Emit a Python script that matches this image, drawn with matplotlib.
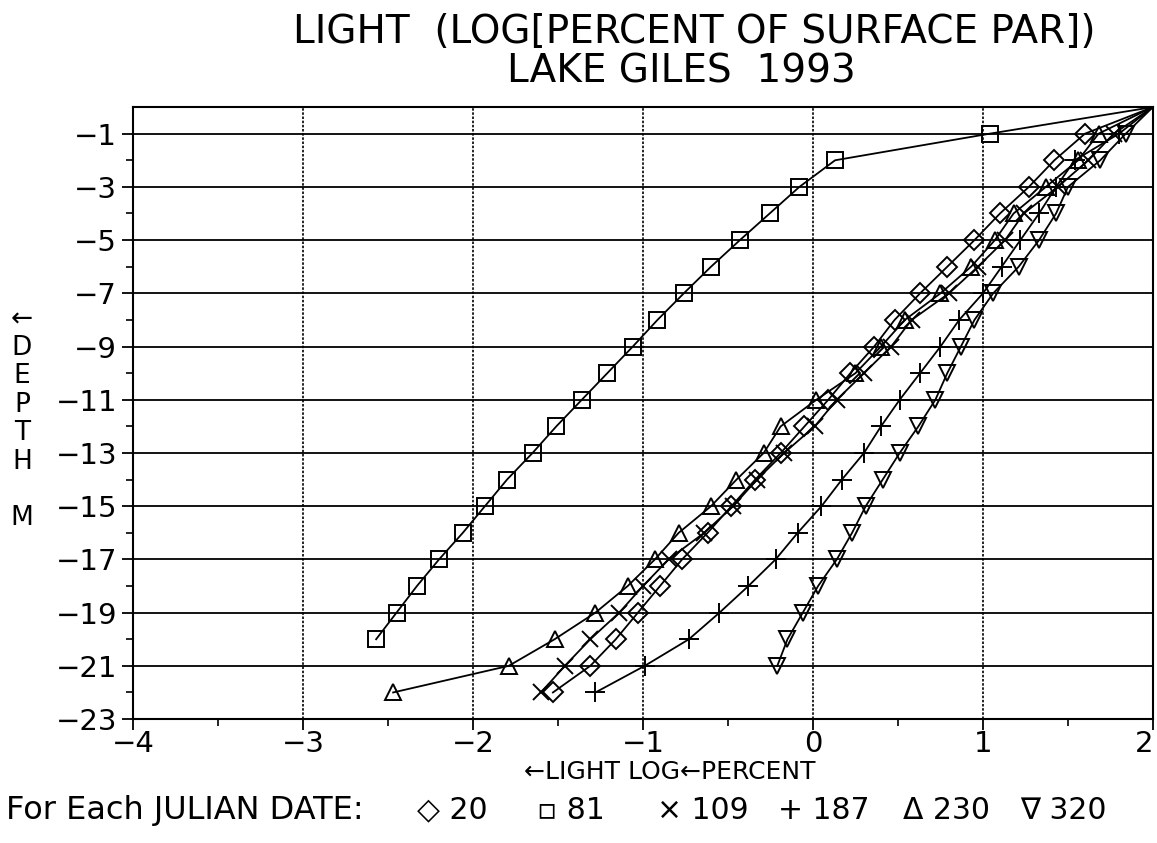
import matplotlib
matplotlib.use("Agg")
import matplotlib.pyplot as plt
import numpy as np

plt.rcParams['font.family'] = ['DejaVu Sans']

# depth (m) for each Julian date, surface point first
depth_20 = [0] + [-d for d in range(1, 23)]
light_20 = [2.0, 1.60, 1.42, 1.27, 1.10, 0.95, 0.79, 0.63, 0.48, 0.36, 0.22, 0.09,
            -0.05, -0.19, -0.34, -0.48, -0.62, -0.77, -0.90, -1.03, -1.16, -1.31, -1.53]

depth_81 = [0] + [-d for d in range(1, 21)]
light_81 = [2.0, 1.04, 0.13, -0.08, -0.255, -0.43, -0.60, -0.76, -0.915, -1.06, -1.21,
            -1.36, -1.51, -1.65, -1.80, -1.93, -2.06, -2.20, -2.33, -2.45, -2.57]

depth_109 = [0] + [-d for d in range(1, 23)]
light_109 = [2.0, 1.77, 1.62, 1.44, 1.24, 1.13, 0.97, 0.80, 0.58, 0.46, 0.30, 0.14,
             0.01, -0.17, -0.33, -0.47, -0.64, -0.85, -1.00, -1.14, -1.31, -1.46, -1.60]

depth_187 = [0] + [-d for d in range(1, 23)]
light_187 = [2.0, 1.80, 1.54, 1.43, 1.33, 1.22, 1.11, 1.00, 0.86, 0.75, 0.63, 0.51,
             0.40, 0.30, 0.17, 0.05, -0.09, -0.22, -0.38, -0.55, -0.73, -0.99, -1.28]

depth_230 = [0] + [-d for d in range(1, 23)]
light_230 = [2.0, 1.68, 1.56, 1.37, 1.18, 1.07, 0.93, 0.75, 0.54, 0.40, 0.25, 0.02,
             -0.19, -0.29, -0.45, -0.60, -0.79, -0.93, -1.09, -1.28, -1.52, -1.79, -2.47]

depth_320 = [0] + [-d for d in range(1, 22)]
light_320 = [2.0, 1.84, 1.69, 1.50, 1.43, 1.33, 1.21, 1.06, 0.95, 0.87, 0.79, 0.72,
             0.62, 0.51, 0.41, 0.31, 0.23, 0.14, 0.03, -0.06, -0.15, -0.21]

series = [
    (light_20, depth_20, 'D', 10),
    (light_81, depth_81, 's', 11),
    (light_109, depth_109, 'x', 12),
    (light_187, depth_187, '+', 14),
    (light_230, depth_230, '^', 12),
    (light_320, depth_320, 'v', 12),
]

legend_items = ['\u25C7 20', '\u25AB 81', '\u00D7 109', '+ 187', '\u0394 230', '\u2207 320']
legend_x = [417, 537, 657, 778, 903, 1020]

fig = plt.figure(figsize=(11.57, 8.43), dpi=100)
ax = fig.add_axes([0.115, 0.147, 0.8815, 0.726])

for xs, ys, m, ms in series:
    ax.plot(xs[1:], ys[1:], marker=m, markersize=ms, markerfacecolor='none',
            markeredgecolor='black', markeredgewidth=1.4, linestyle='none', zorder=3)
    ax.plot(xs, ys, color='black', linewidth=1.3, zorder=2)

ax.set_xlim(-4, 2)
ax.set_ylim(-23, 0)
ax.set_xticks(np.arange(-4, 3, 1))
ax.set_xticks(np.arange(-3.5, 2, 1), minor=True)
ax.set_yticks(np.arange(-23, 0, 2))
ax.set_yticks(np.arange(-22, 0, 2), minor=True)
ax.set_xticklabels(['\u22124', '\u22123', '\u22122', '\u22121', '0', '1', '2'])
ax.set_yticklabels(['\u2212%d' % d for d in range(23, 0, -2)])
ax.tick_params(axis='both', which='major', direction='out', length=8, width=1.3,
               labelsize=21, colors='black')
ax.tick_params(axis='both', which='minor', direction='out', length=5, width=1.2)
ax.tick_params(axis='x', pad=0)
ax.get_xticklabels()[-1].set_horizontalalignment('right')

ax.grid(axis='y', which='major', color='black', linewidth=1.3, linestyle='-')
ax.grid(axis='x', which='major', color='black', linewidth=1.2, linestyle=(0, (1.5, 1)))
ax.set_axisbelow(True)
for s in ax.spines.values():
    s.set_linewidth(1.5)

fig.text(0.60, 0.962, 'LIGHT  (LOG[PERCENT OF SURFACE PAR])', ha='center', va='center',
         fontsize=28)
fig.text(0.589, 0.915, 'LAKE GILES  1993', ha='center', va='center', fontsize=28)

fig.text(0.019, 0.503, '\u2190\nD\nE\nP\nT\nH\n\nM', ha='center', va='center',
         fontsize=19, linespacing=1.12)

fig.text(0.579, 0.084, '\u2190LIGHT LOG\u2190PERCENT', ha='center', va='center', fontsize=18)
fig.text(0.005, 0.039, 'For Each JULIAN DATE:', ha='left', va='center', fontsize=23)
for lab, px in zip(legend_items, legend_x):
    fig.text(px / 1157, 0.039, lab, ha='left', va='center', fontsize=21.5)

fig.savefig('out.png', dpi=100)
